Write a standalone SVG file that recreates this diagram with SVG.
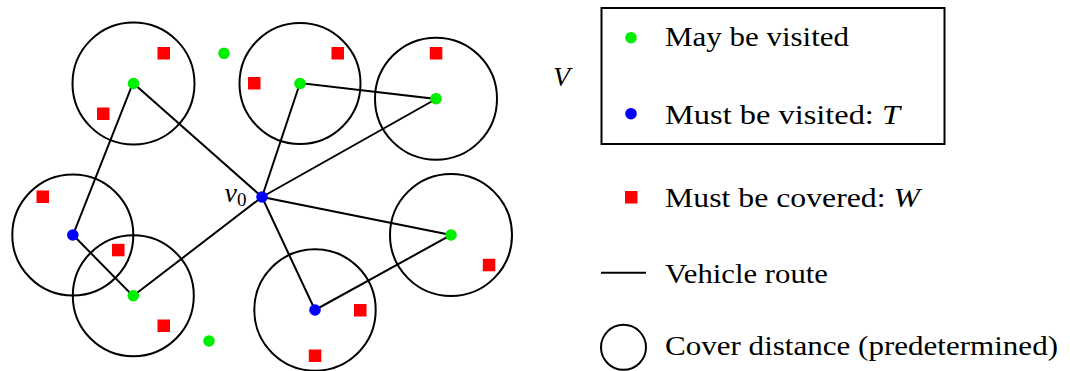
<svg xmlns="http://www.w3.org/2000/svg" width="1070" height="371" viewBox="0 0 1070 371">
<style>
.cov{fill:none;stroke:#000;stroke-width:2}
.rt{stroke:#000;stroke-width:2;fill:none}
.g{fill:#00ee00}
.b{fill:#0000ff}
.r{fill:#ff0000}
</style>
<rect width="1070" height="371" fill="#fff"/>
<g id="connectors">
<polyline class="rt" points="262,197 133,83 73,235 133,296 262,197"/>
<polyline class="rt" points="262,197 300,83 436,99 262,197"/>
<polyline class="rt" points="262,197 451,235 315,310 262,197"/>
</g>
<g id="nodeA"><circle class="cov" cx="133.5" cy="83.5" r="61"/><circle class="g" cx="133.5" cy="83.5" r="5.8"/><rect class="r" x="157.5" y="47" width="12.5" height="12.5"/><rect class="r" x="97" y="107.5" width="12.5" height="12.5"/></g>
<g id="nodeB"><circle class="cov" cx="300" cy="83.5" r="60.5"/><circle class="g" cx="300" cy="83.5" r="5.8"/><rect class="r" x="331.5" y="47" width="12.5" height="12.5"/><rect class="r" x="248" y="77" width="12.5" height="12.5"/></g>
<g id="nodeC"><circle class="cov" cx="436" cy="98.7" r="61"/><circle class="g" cx="436" cy="98.7" r="5.8"/><rect class="r" x="429.8" y="47" width="12.5" height="12.5"/></g>
<g id="nodeD"><circle class="cov" cx="72.8" cy="235" r="60.5"/><circle class="b" cx="72.8" cy="235" r="5.8"/><rect class="r" x="36.5" y="190.5" width="12.5" height="12.5"/><rect class="r" x="112" y="243.8" width="12.5" height="12.5"/></g>
<g id="nodeE"><circle class="cov" cx="133.3" cy="295.7" r="60.5"/><circle class="g" cx="133.3" cy="295.7" r="5.8"/><rect class="r" x="157.5" y="319.5" width="12.5" height="12.5"/></g>
<g id="nodeF"><circle class="cov" cx="451" cy="235" r="61"/><circle class="g" cx="451" cy="235" r="5.8"/><rect class="r" x="482.8" y="258.8" width="12.5" height="12.5"/></g>
<g id="nodeG"><circle class="cov" cx="315" cy="310" r="60.7"/><circle class="b" cx="315" cy="310" r="5.8"/><rect class="r" x="354" y="304" width="12.5" height="12.5"/><rect class="r" x="308.8" y="349.5" width="12.5" height="12.5"/></g>
<g id="free1"><circle class="g" cx="224" cy="53.3" r="5.8"/></g>
<g id="free2"><circle class="g" cx="209" cy="341" r="5.8"/></g>
<g id="v0"><circle class="b" cx="262" cy="197" r="5.8"/><text x="224.5" y="201.5" font-family="Liberation Serif" font-size="28" font-style="italic">v<tspan font-style="normal" font-size="19" dy="4">0</tspan></text></g>
<g id="legend">
<text x="553" y="86" font-family="Liberation Serif" font-size="28" font-style="italic">V</text>
<rect x="601.5" y="8" width="343" height="136" fill="none" stroke="#000" stroke-width="2"/>
<circle class="g" cx="631" cy="37.7" r="5.8"/>
<text x="665" y="46" font-family="Liberation Serif" font-size="28" textLength="184" lengthAdjust="spacingAndGlyphs">May be visited</text>
<circle class="b" cx="631" cy="113.7" r="5.8"/>
<text x="665" y="124" font-family="Liberation Serif" font-size="28" textLength="235" lengthAdjust="spacingAndGlyphs">Must be visited: <tspan font-style="italic">T</tspan></text>
<rect class="r" x="625" y="191" width="12.5" height="12.5"/>
<text x="665" y="207.3" font-family="Liberation Serif" font-size="28" textLength="255" lengthAdjust="spacingAndGlyphs">Must be covered: <tspan font-style="italic">W</tspan></text>
<line class="rt" x1="601" y1="272.7" x2="646" y2="272.7"/>
<text x="665" y="283.3" font-family="Liberation Serif" font-size="28" textLength="163" lengthAdjust="spacingAndGlyphs">Vehicle route</text>
<circle class="cov" cx="623.5" cy="347.3" r="22.5"/>
<text x="665" y="355" font-family="Liberation Serif" font-size="28" textLength="393" lengthAdjust="spacingAndGlyphs">Cover distance (predetermined)</text>
</g>
</svg>
